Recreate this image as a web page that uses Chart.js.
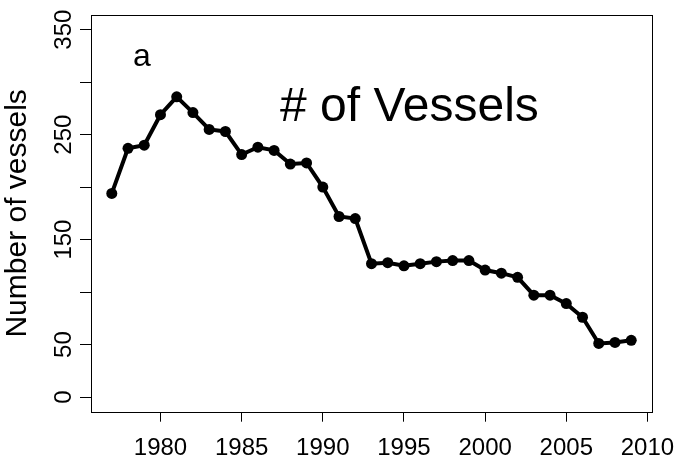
<!DOCTYPE html>
<html>
<head>
<meta charset="utf-8">
<script src="https://cdn.jsdelivr.net/npm/chart.js@4"></script>
<style>
  html, body { margin: 0; padding: 0; background: #fff; }
  #wrap { width: 678px; height: 457px; }
</style>
</head>
<body>
<div id="wrap"><canvas id="c" width="678" height="457"></canvas></div>
<script>
// data
const years = [1977, 1978, 1979, 1980, 1981, 1982, 1983, 1984, 1985, 1986, 1987,
  1988, 1989, 1990, 1991, 1992, 1993, 1994, 1995, 1996, 1997, 1998, 1999, 2000,
  2001, 2002, 2003, 2004, 2005, 2006, 2007, 2008, 2009];
const vessels = [194, 237, 240, 269, 286, 271, 255, 253, 231, 238, 235,
  222, 223, 200, 172, 170, 127, 128, 125, 127, 129, 130, 130, 121,
  118, 114, 97, 97, 89, 76, 51, 52, 54];

const xTicks = [1980, 1985, 1990, 1995, 2000, 2005, 2010];
const yTicks = [0, 50, 100, 150, 200, 250, 300, 350];
const yTickLabels = ['0', '50', '', '150', '', '250', '', '350'];

const FONT = '"Liberation Sans", Arial, sans-serif';

// box around the plot, rotated y labels and the two text notes
const extras = {
  id: 'extras',
  afterDraw(chart){
    const ctx = chart.ctx;
    const a = chart.chartArea;
    const ys = chart.scales.y;
    ctx.save();
    ctx.strokeStyle = '#000';
    ctx.lineWidth = 1;
    ctx.strokeRect(Math.round(a.left) + 0.5, Math.round(a.top) + 0.5,
      Math.round(a.right - a.left), Math.round(a.bottom - a.top));

    ctx.fillStyle = '#000';
    ctx.font = '24px ' + FONT;
    ctx.textAlign = 'center';
    ctx.textBaseline = 'alphabetic';
    yTicks.forEach((v, i) => {
      if(!yTickLabels[i]) return;
      const py = ys.getPixelForValue(v);
      ctx.save();
      ctx.translate(70.5, py);
      ctx.rotate(-Math.PI / 2);
      ctx.fillText(yTickLabels[i], 0, 0);
      ctx.restore();
    });

    ctx.textAlign = 'left';
    ctx.font = '32px ' + FONT;
    ctx.fillText('a', 133, 66);
    ctx.font = '48px ' + FONT;
    ctx.fillText('# of Vessels', 280, 121);
    ctx.restore();
  }
};

new Chart(document.getElementById('c'), {
  type: 'line',
  data: {
    datasets: [{
      data: years.map((y, i) => ({ x: y, y: vessels[i] })),
      borderColor: '#000',
      backgroundColor: '#000',
      borderWidth: 4,
      pointRadius: 5.5,
      pointBorderWidth: 0,
      tension: 0
    }]
  },
  options: {
    responsive: false,
    animation: false,
    layout: { padding: { top: 15, right: 26, left: 0, bottom: 0 } },
    plugins: { legend: { display: false }, tooltip: { enabled: false } },
    scales: {
      x: {
        type: 'linear',
        min: 1975.72,
        max: 2010.28,
        afterBuildTicks: s => { s.ticks = xTicks.map(v => ({ value: v })); },
        afterFit: s => { s.height = 45.3; s.paddingLeft = 0; s.paddingRight = 0; },
        grid: { drawOnChartArea: false, drawTicks: true, tickLength: 10, color: '#000', tickColor: '#000' },
        border: { display: false },
        ticks: {
          color: '#000',
          font: { family: FONT, size: 24 },
          padding: 12,
          maxRotation: 0,
          callback: v => String(v)
        }
      },
      y: {
        min: -14,
        max: 364,
        afterBuildTicks: s => { s.ticks = yTicks.map(v => ({ value: v })); },
        afterFit: s => { s.width = 91; s.paddingTop = 0; s.paddingBottom = 0; },
        grid: { drawOnChartArea: false, drawTicks: true, tickLength: 11, color: '#000', tickColor: '#000' },
        border: { display: false },
        ticks: { display: false },
        title: {
          display: true,
          text: 'Number of vessels',
          color: '#000',
          font: { family: FONT, size: 30 },
          padding: { top: 0, bottom: 0 }
        }
      }
    }
  },
  plugins: [extras]
});
</script>
</body>
</html>
